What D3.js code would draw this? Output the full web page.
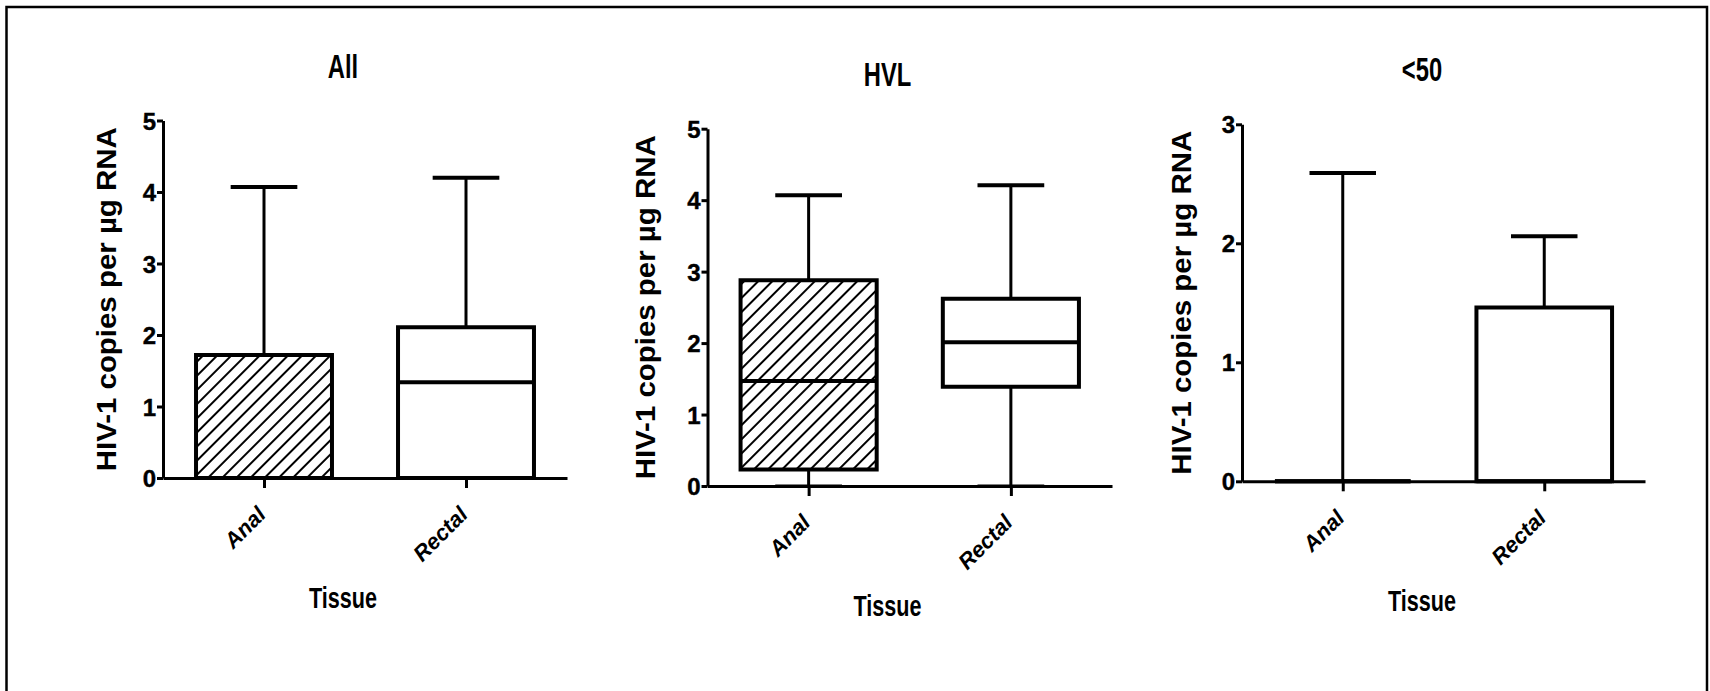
<!DOCTYPE html>
<html><head><meta charset="utf-8">
<script src="https://cdn.jsdelivr.net/npm/d3@7"></script>
<style>body{margin:0;background:#fff;overflow:hidden} svg{display:block} text{font-family:"Liberation Sans",Arial,sans-serif;font-weight:bold;fill:#000}</style>
</head><body>
<script>
// ---- data ----
const panelTitles = ["All", "HVL", "<50"];
const categories = ["Anal", "Rectal"];
const yMaxes = [5, 5, 3];
const yTickValues = [[0,1,2,3,4,5],[0,1,2,3,4,5],[0,1,2,3]];
// five-number summaries: [min, q1, median, q3, max]
const allAnal    = [0, 0,    0,    1.72, 4.07];
const allRectal  = [0, 0,    1.34, 2.11, 4.20];
const hvlAnal    = [0, 0.23, 1.47, 2.88, 4.07];
const hvlRectal  = [0, 1.39, 2.01, 2.62, 4.21];
const lt50Anal   = [0, 0,    0,    0,    2.59];
const lt50Rectal = [0, 0,    0,    1.46, 2.06];
const panelData = [[allAnal, allRectal], [hvlAnal, hvlRectal], [lt50Anal, lt50Rectal]];
const yLabel = "HIV-1 copies per µg RNA";
const xLabel = "Tissue";

// ---- layout ----
const W = 1710, H = 691;
const layout = [
  {left:163,   right:567,  top:120.5, bottom:478,   ylabX:-47},
  {left:707.5, right:1112, top:128.7, bottom:486,   ylabX:-53},
  {left:1242,  right:1645, top:124.3, bottom:481.3, ylabX:-51}
];

const svg = d3.select("body").append("svg").attr("width", W).attr("height", H);
const defs = svg.append("defs");
const pat = defs.append("pattern").attr("id","hatch").attr("patternUnits","userSpaceOnUse")
  .attr("width",10).attr("height",10).attr("patternTransform","rotate(45)");
pat.append("rect").attr("width",10).attr("height",10).attr("fill","#fff");
pat.append("line").attr("x1",5).attr("y1",-1).attr("x2",5).attr("y2",11).attr("stroke","#000").attr("stroke-width",2);

// outer frame
const frame = svg.append("g").attr("stroke","#000").attr("stroke-width",2.5).attr("fill","none");
frame.append("path").attr("d", d3.line()([[6.5,H],[6.5,7],[1707,7],[1707,H]]));

panelData.forEach((pd, i) => {
  const L = layout[i];
  const g = svg.append("g");
  const x = d3.scalePoint().domain(categories).range([L.left, L.right]).padding(0.5);
  const y = d3.scaleLinear().domain([0, yMaxes[i]]).range([L.bottom, L.top]);
  const step = x.step();
  const boxW = step * 0.673, capW = step * 0.33;

  // y axis
  const ya = g.append("g").attr("transform", `translate(${L.left},0)`)
    .call(d3.axisLeft(y).tickValues(yTickValues[i]).tickSize(6).tickSizeOuter(0).tickPadding(1).tickFormat(d3.format("d")));
  ya.select(".domain").attr("stroke","#000").attr("stroke-width",3);
  ya.selectAll(".tick line").attr("stroke","#000").attr("stroke-width",3);
  ya.selectAll(".tick text").style("font-size","24px").attr("dy","0.36em")
    .attr("stroke","#000").attr("stroke-width",0.4);

  // x axis
  const xa = g.append("g").attr("transform", `translate(0,${L.bottom})`)
    .call(d3.axisBottom(x).tickSize(10).tickSizeOuter(0).tickFormat(""));
  xa.select(".domain").attr("stroke","#000").attr("stroke-width",3);
  xa.selectAll(".tick line").attr("stroke","#000").attr("stroke-width",3);

  // category labels
  g.selectAll(".cat").data(categories).join("text").attr("class","cat")
    .attr("font-size",22).attr("font-style","italic").attr("text-anchor","end")
    .attr("transform", c => `translate(${x(c)+3},${L.bottom+38}) rotate(-45)`)
    .text(c => c);

  // boxes
  categories.forEach((c, j) => {
    const [mn, q1, md, q3, mx] = pd[j];
    const cx = x(c);
    const bg = g.append("g").attr("stroke","#000").attr("fill","none");
    // whiskers
    bg.append("line").attr("x1",cx).attr("x2",cx).attr("y1",y(q3)).attr("y2",y(mx)).attr("stroke-width",3);
    bg.append("line").attr("x1",cx).attr("x2",cx).attr("y1",y(mn)).attr("y2",y(q1)).attr("stroke-width",3);
    // caps
    bg.append("line").attr("x1",cx-capW/2).attr("x2",cx+capW/2).attr("y1",y(mx)).attr("y2",y(mx)).attr("stroke-width",4);
    bg.append("line").attr("x1",cx-capW/2).attr("x2",cx+capW/2).attr("y1",y(mn)).attr("y2",y(mn)).attr("stroke-width",3);
    // box
    const x0 = cx - boxW/2, x1 = cx + boxW/2;
    bg.append("path")
      .attr("d", `M${x0},${y(q1)}H${x1}V${y(q3)}H${x0}Z`)
      .attr("fill", j === 0 ? "url(#hatch)" : "#fff")
      .attr("stroke-width",4).attr("stroke-linejoin","miter");
    // median
    bg.append("line").attr("x1",x0).attr("x2",x1).attr("y1",y(md)).attr("y2",y(md)).attr("stroke-width",4);
  });

  // title
  g.append("text").attr("text-anchor","middle").attr("font-size",33)
    .attr("transform", `translate(${L.left+180},${L.top-43}) scale(0.72,1)`).text(panelTitles[i]);
  // x label
  g.append("text").attr("text-anchor","middle").attr("font-size",30)
    .attr("transform", `translate(${L.left+180},${L.bottom+130}) scale(0.72,1)`).text(xLabel);
  // y label
  g.append("text").attr("text-anchor","middle").attr("font-size",27)
    .attr("textLength",344).attr("lengthAdjust","spacingAndGlyphs")
    .attr("transform", `translate(${L.left+L.ylabX},${(L.top+L.bottom)/2}) rotate(-90)`)
    .text(yLabel);
});
</script>
</body></html>
